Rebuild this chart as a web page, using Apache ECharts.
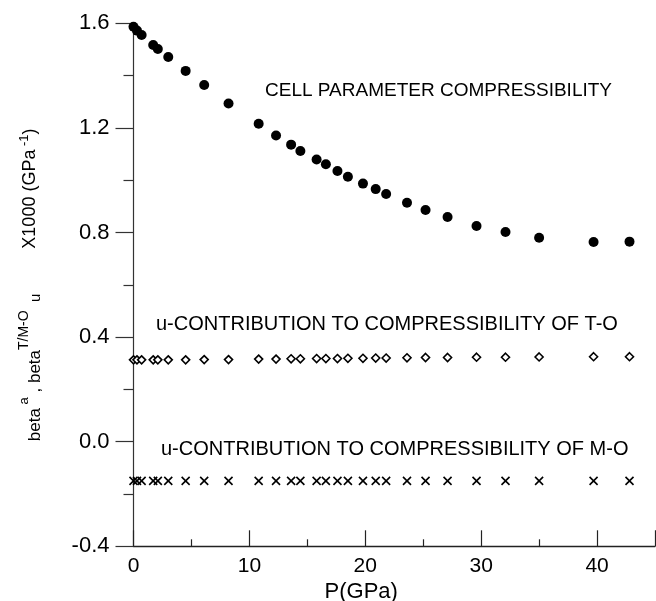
<!DOCTYPE html>
<html>
<head>
<meta charset="utf-8">
<title>Compressibility vs pressure</title>
<script src="https://cdn.jsdelivr.net/npm/echarts@6/dist/echarts.min.js"></script>
<style>
  html, body { margin: 0; padding: 0; background: #fff; }
  #chart { width: 656px; height: 601px; }
</style>
</head>
<body>
<div id="chart"></div>
<script>
  // pressure (GPa), same for the three series
  const pressure = [0, 0.3, 0.7, 1.7, 2.1, 3.0, 4.5, 6.1, 8.2, 10.8, 12.3, 13.6, 14.4, 15.8,
    16.6, 17.6, 18.5, 19.8, 20.9, 21.8, 23.6, 25.2, 27.1, 29.6, 32.1, 35.0, 39.7, 42.8]
  // cell parameter compressibility x1000
  const betaA = [1.587, 1.572, 1.555, 1.517, 1.502, 1.471, 1.418, 1.364, 1.293, 1.216, 1.171,
    1.136, 1.112, 1.079, 1.061, 1.035, 1.013, 0.987, 0.966, 0.947, 0.914, 0.886, 0.859, 0.825,
    0.802, 0.780, 0.764, 0.765]
  // u-contribution, T-O
  const betaTO = [0.313, 0.313, 0.313, 0.313, 0.313, 0.313, 0.313, 0.314, 0.314, 0.316, 0.316,
    0.317, 0.317, 0.318, 0.318, 0.318, 0.319, 0.319, 0.320, 0.320, 0.321, 0.322, 0.322, 0.323,
    0.323, 0.324, 0.325, 0.325]
  // u-contribution, M-O
  const betaMO = [-0.150, -0.150, -0.150, -0.150, -0.150, -0.150, -0.150, -0.150, -0.150,
    -0.150, -0.150, -0.150, -0.150, -0.150, -0.150, -0.150, -0.150, -0.150, -0.150, -0.150,
    -0.150, -0.150, -0.150, -0.150, -0.150, -0.150, -0.150, -0.150]

  const xTicks = [0, 10, 20, 30, 40]
  const yTicks = [-0.4, 0.0, 0.4, 0.8, 1.2, 1.6]

  const font = '"Liberation Sans", Arial, sans-serif'
  const toPairs = (ys) => pressure.map((p, i) => [p, ys[i]])

  const chart = echarts.init(document.getElementById('chart'))
  chart.setOption({
    animation: false,
    backgroundColor: '#fff',
    grid: { left: 133.5, right: 1, top: 23.3, bottom: 54.7, outerBoundsMode: 'none' },
    xAxis: {
      type: 'value',
      min: 0,
      max: 45,
      interval: 10,
      name: 'P(GPa)',
      nameLocation: 'middle',
      nameGap: 33,
      nameTextStyle: { fontFamily: font, fontSize: 22, color: '#000', padding: [0, 66, 0, 0] },
      axisLine: { show: true, onZero: false, lineStyle: { color: '#222', width: 1.3 } },
      axisTick: { show: true, inside: true, length: 16, lineStyle: { color: '#222', width: 1.2 } },
      minorTick: { show: true, splitNumber: 2, length: 7, lineStyle: { color: '#222', width: 1.2 } },
      splitLine: { show: false },
      axisLabel: {
        fontFamily: font,
        fontSize: 21,
        color: '#000',
        margin: 9,
        showMaxLabel: false,
        formatter: (v) => (xTicks.includes(v) ? String(v) : '')
      }
    },
    yAxis: {
      type: 'value',
      min: -0.4,
      max: 1.6,
      interval: 0.4,
      name: '{b|beta}{sp| a}{b| , beta}{st|T/M-O}{sb|  u}{n|         X1000 (GPa}{sp| -1}{n|)}',
      nameLocation: 'middle',
      nameRotate: 90,
      nameGap: 90,
      nameTextStyle: {
        fontFamily: font,
        color: '#000',
        lineHeight: 26,
        rich: {
          n: { fontFamily: font, fontSize: 18, color: '#000', lineHeight: 26 },
          b: { fontFamily: font, fontSize: 17, color: '#000', lineHeight: 18, verticalAlign: 'bottom' },
          sp: { fontFamily: font, fontSize: 13, color: '#000', lineHeight: 9, verticalAlign: 'top' },
          st: { fontFamily: font, fontSize: 14, color: '#000', lineHeight: 11, verticalAlign: 'top' },
          sb: { fontFamily: font, fontSize: 15, color: '#000', lineHeight: 10, verticalAlign: 'bottom' }
        }
      },
      axisLine: { show: true, onZero: false, lineStyle: { color: '#333', width: 1.2 } },
      axisTick: { show: true, inside: false, length: 18, lineStyle: { color: '#333', width: 1.2 } },
      minorTick: { show: true, splitNumber: 2, length: 10, lineStyle: { color: '#333', width: 1.2 } },
      splitLine: { show: false },
      axisLabel: {
        fontFamily: font,
        fontSize: 22,
        color: '#000',
        margin: 24,
        formatter: (v) => {
          const t = +v.toFixed(1)
          return yTicks.includes(t) ? t.toFixed(1) : ''
        }
      }
    },
    series: [
      {
        name: 'cell parameter',
        type: 'scatter',
        data: toPairs(betaA),
        symbol: 'circle',
        symbolSize: 10,
        itemStyle: { color: '#000', opacity: 1 }
      },
      {
        name: 'T-O',
        type: 'scatter',
        data: toPairs(betaTO),
        symbol: 'diamond',
        symbolSize: 8,
        itemStyle: { color: '#fff', borderColor: '#000', borderWidth: 1.6, opacity: 1 }
      },
      {
        name: 'M-O',
        type: 'scatter',
        data: toPairs(betaMO),
        symbol: 'path://M0,0L10,10M10,0L0,10',
        symbolSize: 8,
        itemStyle: { color: 'transparent', borderColor: '#000', borderWidth: 1.6, opacity: 1 }
      }
    ],
    graphic: [
      {
        type: 'text',
        left: 265,
        top: 81,
        style: { text: 'CELL PARAMETER COMPRESSIBILITY', font: '19px ' + font, fill: '#000' }
      },
      {
        type: 'text',
        left: 156,
        top: 314,
        style: { text: 'u-CONTRIBUTION TO COMPRESSIBILITY OF T-O', font: '20px ' + font, fill: '#000' }
      },
      {
        type: 'text',
        left: 161,
        top: 439,
        style: { text: 'u-CONTRIBUTION TO COMPRESSIBILITY OF M-O', font: '20px ' + font, fill: '#000' }
      }
    ]
  })
</script>
</body>
</html>
